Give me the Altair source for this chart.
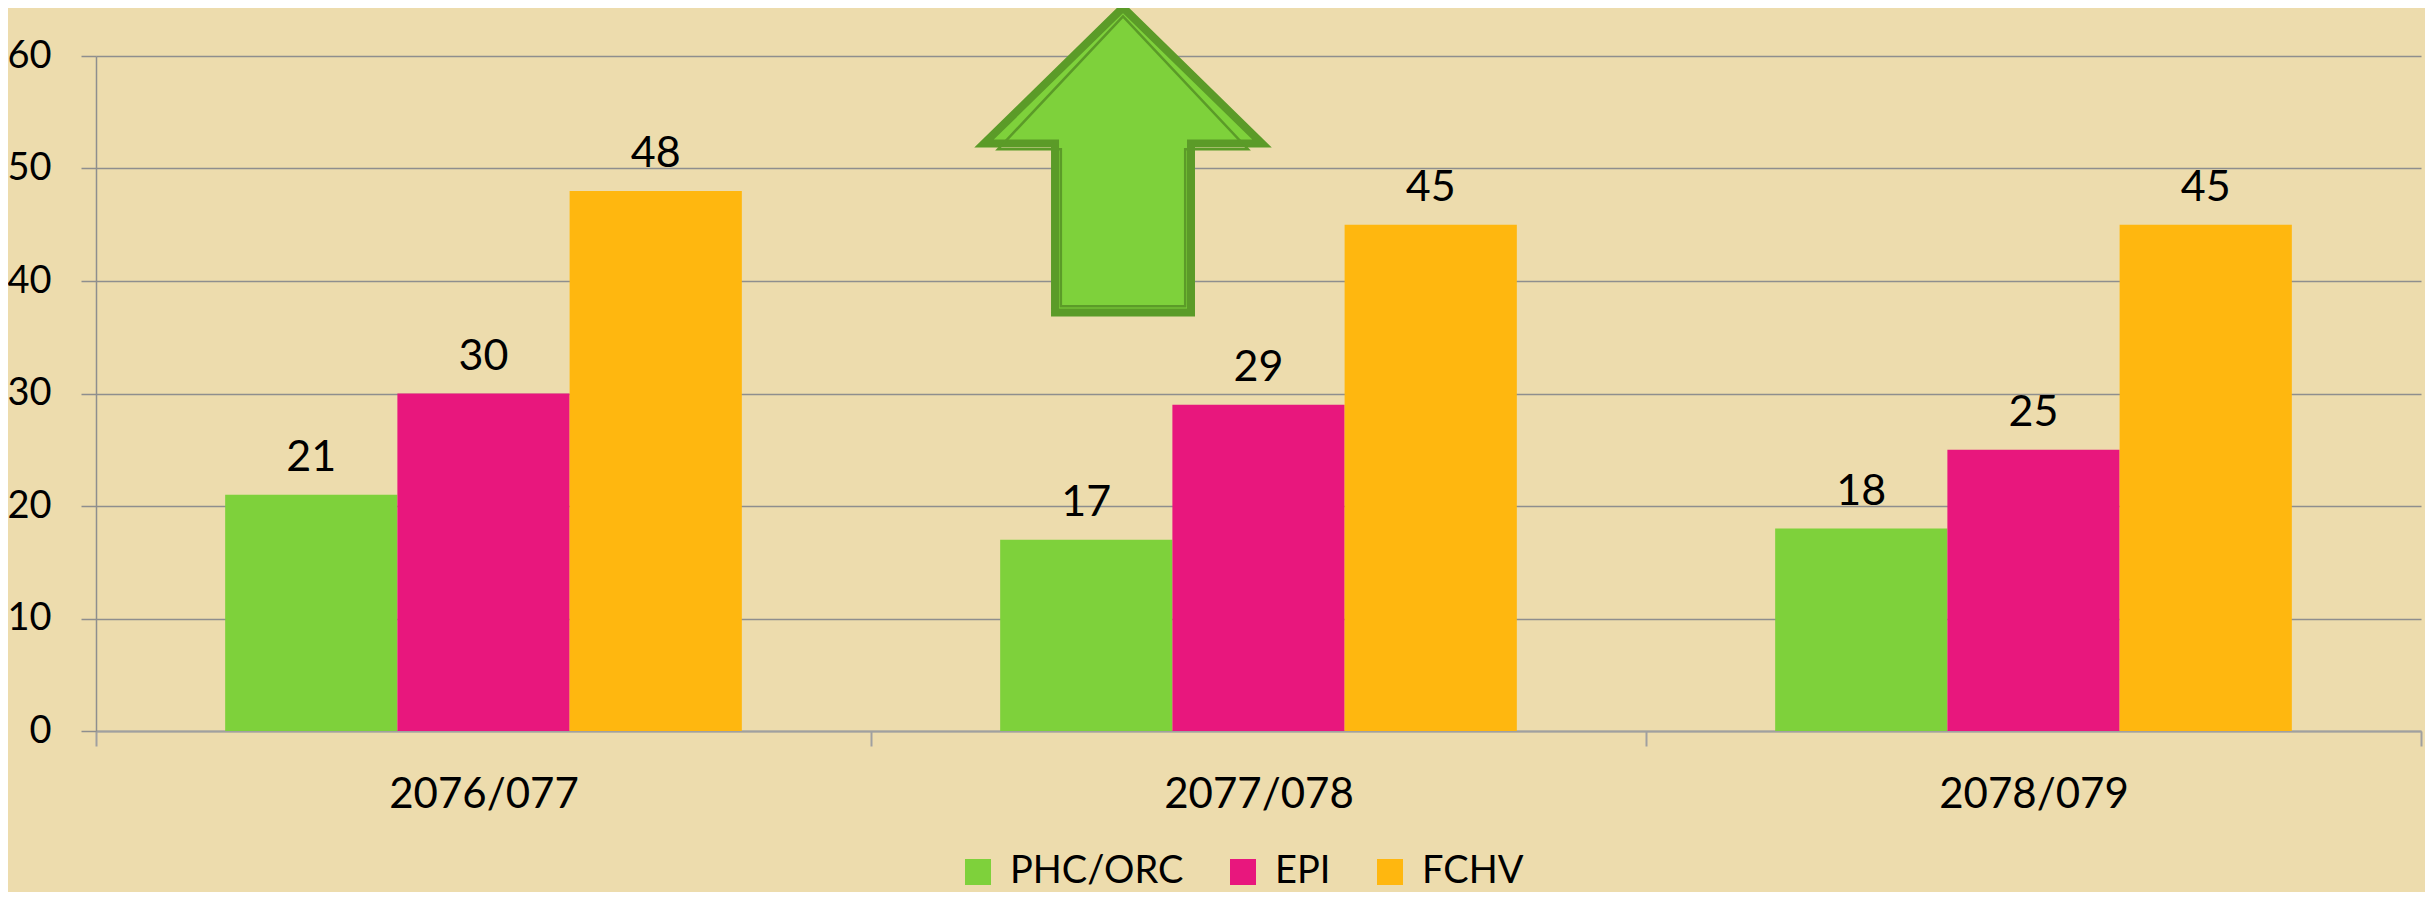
import altair as alt
import pandas as pd

# ---- data ----
years = ["2076/077", "2077/078", "2078/079"]
series = ["PHC/ORC", "EPI", "FCHV"]
phc_orc = [21, 17, 18]
epi = [30, 29, 25]
fchv = [48, 45, 45]
colors = ["#7ED13B", "#E8177D", "#FFB70F"]
y_ticks = [0, 10, 20, 30, 40, 50, 60]

# decorative up-arrow anchor (drawn above the 2077/078 group)
arrow_year = ["2077/078"]
arrow_series = ["PHC/ORC"]
arrow_value = [50.8]

rows = []
for i, yr in enumerate(years):
    for s, vals in zip(series, [phc_orc, epi, fchv]):
        rows.append({"year": yr, "series": s, "value": vals[i]})
df = pd.DataFrame(rows)
arrow_df = pd.DataFrame({"year": arrow_year, "series": arrow_series, "value": arrow_value})

FONT = "Lato"
GRID = "#8E8E8E"

x_enc = alt.X(
    "year:N",
    sort=years,
    scale=alt.Scale(paddingInner=0, paddingOuter=0),
    axis=alt.Axis(
        title=None,
        labelAngle=0,
        labelFont=FONT,
        labelFontSize=42,
        labelColor="black",
        labelPadding=28,
        labelLimit=0,
        tickBand="extent",
        tickSize=15,
        tickColor="#A0A0A0",
        tickWidth=2,
        domainColor="#A0A0A0",
        domainWidth=2,
        grid=False,
    ),
)
xo_scale = alt.Scale(paddingInner=0, paddingOuter=0.75)
xo_enc = alt.XOffset("series:N", sort=series, scale=xo_scale)
y_enc = alt.Y(
    "value:Q",
    scale=alt.Scale(domain=[0, 60], nice=False),
    axis=alt.Axis(
        title=None,
        values=y_ticks,
        labelFont=FONT,
        labelFontSize=38,
        labelColor="black",
        labelPadding=30,
        labelLimit=0,
        tickSize=15,
        tickColor=GRID,
        tickWidth=1.5,
        domainColor=GRID,
        domainWidth=1.5,
        grid=True,
        gridColor=GRID,
        gridWidth=1.5,
    ),
)

base = alt.Chart(df)

bars = base.mark_bar().encode(
    x=x_enc,
    xOffset=xo_enc,
    y=y_enc,
    color=alt.Color(
        "series:N",
        sort=series,
        scale=alt.Scale(domain=series, range=colors),
        legend=alt.Legend(
            title=None,
            orient="none",
            legendX=863,
            legendY=797,
            direction="horizontal",
            labelFont=FONT,
            labelFontSize=38,
            labelColor="black",
            labelLimit=0,
            symbolType="square",
            symbolSize=676,
            symbolStrokeWidth=0,
            labelOffset=13,
            columnPadding=40,
            padding=0,
        ),
    ),
)

labels = base.mark_text(
    baseline="alphabetic", dy=-24, fontSize=43, font=FONT, color="black"
).encode(
    x=alt.X("year:N", sort=years),
    xOffset=alt.XOffset("series:N", sort=series),
    y=alt.Y("value:Q"),
    text=alt.Text("value:Q"),
)

outer_path = ("M 0.234 -0.968 L 1.119 -0.102 L 0.667 -0.102 L 0.667 0.975 "
              "L -0.199 0.975 L -0.199 -0.102 L -0.651 -0.102 Z")
inner_path = ("M 0.234 -0.912 L 1.030 -0.066 L 0.630 -0.066 L 0.630 0.935 "
              "L -0.162 0.935 L -0.162 -0.066 L -0.562 -0.066 Z")

arrow_outer = alt.Chart(arrow_df).mark_point(
    shape=outer_path, size=98596, filled=True, fill="#7ED13B",
    stroke="#5B9B28", strokeWidth=8, opacity=1, strokeJoin="miter",
).encode(
    x=alt.X("year:N", sort=years),
    xOffset=alt.XOffset("series:N", sort=series),
    y=alt.Y("value:Q"),
)
arrow_inner = alt.Chart(arrow_df).mark_point(
    shape=inner_path, size=98596, filled=False,
    stroke="#5B9B28", strokeWidth=2.5, opacity=1, strokeJoin="miter",
).encode(
    x=alt.X("year:N", sort=years),
    xOffset=alt.XOffset("series:N", sort=series),
    y=alt.Y("value:Q"),
)

chart = alt.layer(bars, labels, arrow_outer, arrow_inner).properties(
    width=2325,
    height=675,
    autosize=alt.AutoSizeParams(type="none"),
    padding={"left": 88, "top": 48, "right": 4, "bottom": 161},
    background="#EDDCAD",
).configure_view(stroke=None)

chart.save("out.html", embed_options={"renderer": "svg", "actions": False})
